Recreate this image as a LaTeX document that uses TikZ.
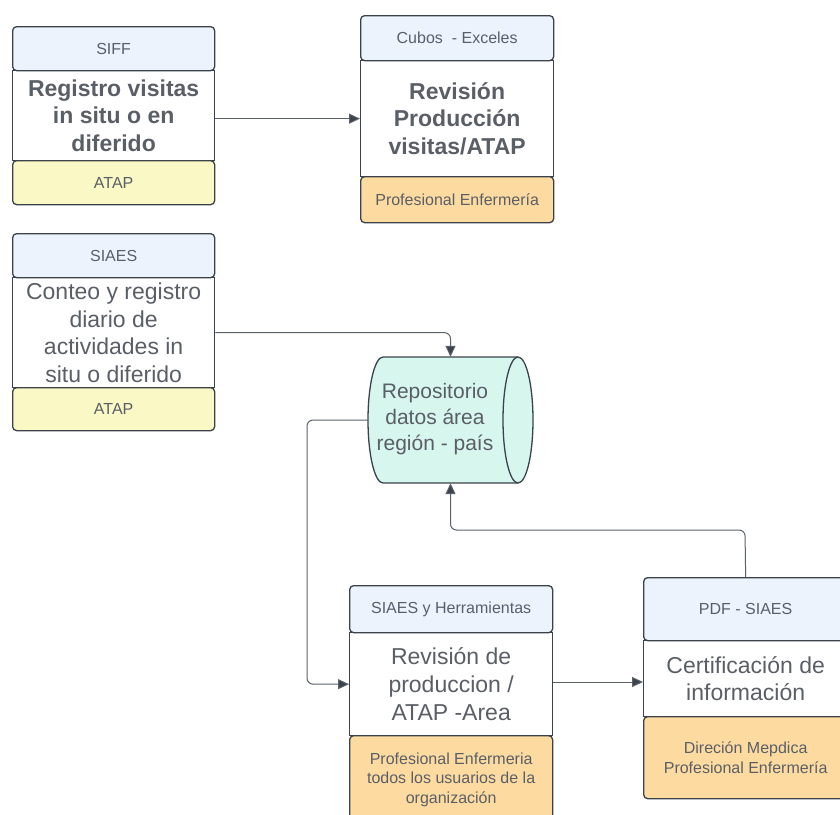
\documentclass[tikz,border=0pt]{standalone}
\usepackage{fontspec}
\setmainfont{Liberation Sans}
\usetikzlibrary{arrows.meta}
\definecolor{hdrblue}{HTML}{ECF3FD}
\definecolor{ftyellow}{HTML}{FAF8C4}
\definecolor{ftorange}{HTML}{FDDBA0}
\definecolor{cyteal}{HTML}{D6F6EE}
\definecolor{edgec}{HTML}{3B424B}
\definecolor{connc}{HTML}{5A616B}
\definecolor{txt}{HTML}{5A5F67}
\begin{document}
\begin{tikzpicture}[x=1pt,y=-1pt,
 part/.style={draw=edgec, line width=1.3pt, inner sep=0pt, anchor=north west, align=center, text=txt},
 hdr/.style={part, fill=hdrblue, rounded corners=4pt, font=\fontsize{16}{19}\selectfont},
 bodybox/.style={part, fill=white, font=\fontsize{23}{27.7}\selectfont},
 boldbody/.style={bodybox, font=\fontsize{23}{27.7}\selectfont\bfseries},
 ftyel/.style={part, fill=ftyellow, rounded corners=4pt, font=\fontsize{16}{19.5}\selectfont},
 ftora/.style={part, fill=ftorange, rounded corners=4pt, font=\fontsize{16}{19.5}\selectfont},
 conn/.style={draw=connc, line width=1pt, rounded corners=6pt, -{Triangle[length=11pt,width=10pt,fill=edgec]}}
]
\useasboundingbox (0,0) rectangle (840,814);
\clip (0,0) rectangle (840,814);

% Box 1 SIFF
\node[boldbody, minimum width=202pt, minimum height=90pt] (b1body) at (12,70) {Registro visitas\\in situ o en\\diferido};
\node[hdr, minimum width=202pt, minimum height=44pt] (b1head) at (12,26) {SIFF};
\node[ftyel, minimum width=202pt, minimum height=44pt] (b1foot) at (12,160) {ATAP};

% Box 2 Cubos
\node[boldbody, minimum width=193pt, minimum height=116pt] (b2body) at (360,60) {Revisión\\Producción\\visitas/ATAP};
\node[hdr, minimum width=193pt, minimum height=45pt] (b2head) at (360,15) {Cubos \ - Exceles};
\node[ftora, minimum width=193pt, minimum height=46pt] (b2foot) at (360,176) {Profesional Enfermería};

% Box 3 SIAES
\node[bodybox, minimum width=202pt, minimum height=110pt] (b3body) at (12,277) {Conteo y registro\\diario de\\actividades in\\situ o diferido};
\node[hdr, minimum width=202pt, minimum height=44pt] (b3head) at (12,233) {SIAES};
\node[ftyel, minimum width=202pt, minimum height=43pt] (b3foot) at (12,387) {ATAP};

% Box 5 SIAES y Herramientas
\node[bodybox, minimum width=203pt, minimum height=103pt] (b5body) at (349,632) {Revisión de\\produccion /\\ATAP -Area};
\node[hdr, minimum width=203pt, minimum height=47pt] (b5head) at (349,585) {SIAES y Herramientas};
\node[ftora, minimum width=203pt, minimum height=88pt] (b5foot) at (349,735) {Profesional Enfermeria\\todos los usuarios de la\\organización};

% Box 6 PDF - SIAES
\node[bodybox, minimum width=204pt, minimum height=76pt] (b6body) at (643,640) {Certificación de\\información};
\node[hdr, minimum width=204pt, minimum height=63pt] (b6head) at (643,577) {PDF - SIAES};
\node[ftora, minimum width=204pt, minimum height=82pt] (b6foot) at (643,716) {Direción Mepdica\\Profesional Enfermería};

% Cylinder (repository)
\fill[cyteal] (383,357) rectangle (518,483);
\fill[cyteal] (383,420) ellipse [x radius=15pt, y radius=63pt];
\draw[edgec, line width=1.3pt, fill=cyteal] (518,357) -- (383,357)
   arc[start angle=90, end angle=270, x radius=15pt, y radius=63pt] -- (518,483);
\draw[edgec, line width=1.3pt, fill=cyteal] (518,420) ellipse [x radius=15pt, y radius=63pt];
\node[minimum width=165pt, minimum height=126pt, inner sep=0pt] (cyl) at (450.5,420) {};
\node[align=center, text=txt, inner sep=0pt, font=\fontsize{21}{26}\selectfont] (cyltext) at (435,419) {Repositorio\\datos área\\región - país};

% Connectors
\draw[conn] (b1body.east |- b2body.west) -- (b2body.west);
\draw[conn] (b3body.east) -| (cyl.north);
\coordinate (c3a) at (307,420);
\draw[conn] (cyl.west) -- (c3a) |- (b5body.west);
\draw[conn] (b5body.east |- 0,682) -- (b6body.west |- 0,682);
\coordinate (c5a) at (745,530);
\draw[conn] (b6head.north) -- (c5a) -| (cyl.south);
\end{tikzpicture}
\end{document}
